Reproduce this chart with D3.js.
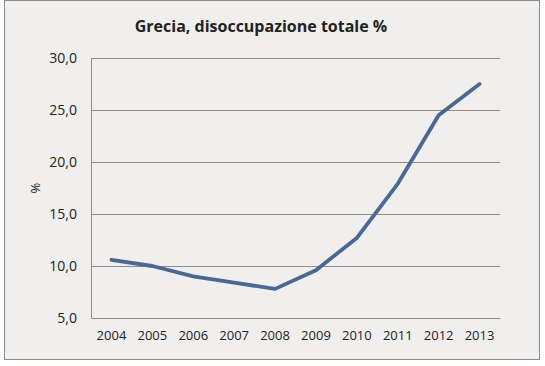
<!DOCTYPE html>
<html>
<head>
<meta charset="utf-8">
<script src="https://cdn.jsdelivr.net/npm/d3@7"></script>
<style>
  body { margin: 0; background: #ffffff; }
  text { font-family: "Open Sans", "Liberation Sans", sans-serif; fill: #222; }
</style>
</head>
<body>
<div id="chart"></div>
<script>
// Data
const years = ["2004", "2005", "2006", "2007", "2008", "2009", "2010", "2011", "2012", "2013"];
const unemployment = [10.6, 10.0, 9.0, 8.4, 7.8, 9.6, 12.7, 17.9, 24.5, 27.5];
const yTicks = [5, 10, 15, 20, 25, 30];

const W = 545, H = 366;
const margin = {top: 58, right: 45, bottom: 48, left: 91};
const width = W - margin.left - margin.right;
const height = H - margin.top - margin.bottom;

const svg = d3.select("#chart").append("svg")
    .attr("width", W)
    .attr("height", H);

// chart area background + border
svg.append("rect")
    .attr("x", 4.5).attr("y", 0.5)
    .attr("width", 535).attr("height", 359)
    .attr("fill", "#f0efed")
    .attr("stroke", "#8a8a8a");

const g = svg.append("g")
    .attr("transform", `translate(${margin.left},${margin.top})`);

const x = d3.scaleBand().domain(years).range([0, width]);
const y = d3.scaleLinear().domain([5, 30]).range([height, 0]);

// gridlines
g.append("g")
    .selectAll("line")
    .data(yTicks.slice(1))
    .join("line")
    .attr("x1", 0).attr("x2", width)
    .attr("y1", d => Math.round(y(d)) + 0.5)
    .attr("y2", d => Math.round(y(d)) + 0.5)
    .attr("stroke", "#8c8c8c");

// Y axis
const fmt = d => d3.format(".1f")(d).replace(".", ",");
const yAxis = g.append("g")
    .call(d3.axisLeft(y).tickValues(yTicks).tickFormat(fmt).tickSize(0).tickPadding(14));
yAxis.select(".domain").attr("stroke", "#8c8c8c");
yAxis.selectAll("text").attr("font-size", 14).attr("fill", "#1a1a1a")
    .attr("font-family", "'Open Sans', sans-serif");

// X axis
const xAxis = g.append("g")
    .attr("transform", `translate(0,${height})`)
    .call(d3.axisBottom(x).tickSize(0).tickPadding(13));
xAxis.select(".domain").attr("stroke", "#8c8c8c");
xAxis.selectAll("text").attr("font-size", 13).attr("fill", "#1a1a1a")
    .attr("font-family", "'Open Sans', sans-serif");

// line
const line = d3.line()
    .x((d, i) => x(years[i]) + x.bandwidth() / 2)
    .y(d => y(d));

g.append("path")
    .datum(unemployment)
    .attr("fill", "none")
    .attr("stroke", "#4a6894")
    .attr("stroke-width", 3.8)
    .attr("stroke-linejoin", "round")
    .attr("stroke-linecap", "round")
    .attr("d", line);

// title
svg.append("text")
    .attr("x", 261).attr("y", 32)
    .attr("text-anchor", "middle")
    .attr("font-size", 16)
    .attr("font-weight", "bold")
    .text("Grecia, disoccupazione totale %");

// y label
svg.append("text")
    .attr("transform", `translate(40,188) rotate(-90)`)
    .attr("text-anchor", "middle")
    .attr("font-size", 13)
    .text("%");
</script>
</body>
</html>
